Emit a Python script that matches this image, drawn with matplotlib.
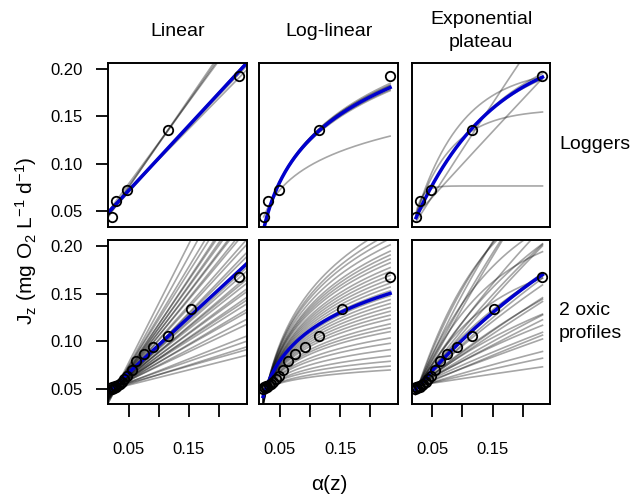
import numpy as np
import matplotlib
matplotlib.use("Agg")
import matplotlib.pyplot as plt

plt.rcParams['font.family'] = ['Liberation Sans', 'DejaVu Sans']
plt.rcParams['mathtext.fontset'] = 'custom'
plt.rcParams['mathtext.rm'] = 'Liberation Sans'
plt.rcParams['mathtext.it'] = 'Liberation Sans:italic'

# observed data: loggers (top row) and 2 oxic profiles (bottom row)
alpha_log = [0.023, 0.0295, 0.048, 0.1155, 0.233]
jz_log = [0.0437, 0.0612, 0.0724, 0.1355, 0.192]

alpha_prof = [0.022, 0.023, 0.025, 0.027, 0.029, 0.032, 0.035, 0.039, 0.043,
              0.048, 0.055, 0.063, 0.075, 0.091, 0.1155, 0.153, 0.233]
jz_prof = [0.050, 0.052, 0.051, 0.053, 0.052, 0.054, 0.055, 0.057, 0.060,
           0.064, 0.070, 0.079, 0.087, 0.094, 0.1055, 0.134, 0.168]

# best fits (blue)
best_lin_log = (0.0376, 0.684)
best_loglin_log = (0.2741, 0.0644)
best_exp_log = (0.039, 1.443, 7.6)
best_lin_prof = (0.0376, 0.585)
best_loglin_prof = (0.2175, 0.046)
best_exp_prof = (0.048, 0.74, 2.5)

# bootstrap fits (grey) - loggers
boot_lin_log_a = [0.0376, 0.039, 0.036, 0.0385, 0.035, 0.040, 0.037, 0.0357, 0.031, 0.029]
boot_lin_log_b = [0.684, 0.675, 0.695, 0.668, 0.700, 0.645, 0.690, 0.864, 0.900, 0.925]
boot_loglin_log_a = [0.274, 0.279, 0.270, 0.283, 0.268, 0.277, 0.1826]
boot_loglin_log_b = [0.0644, 0.066, 0.063, 0.0675, 0.0625, 0.065, 0.0367]
boot_exp_log_j0 = [0.040, 0.040, 0.036, 0.040, 0.044, 0.040, 0.038]
boot_exp_log_s0 = [3.3, 2.0, 1.0, 2.1, 0.70, 1.40, 1.50]
boot_exp_log_k = [90, 17, 0.3, 13, 0.2, 7.0, 8.2]

# bootstrap fits (grey) - 2 oxic profiles
boot_lin_prof_a = [0.015, 0.017, 0.021, 0.023, 0.022, 0.025, 0.024, 0.027, 0.026, 0.028,
                   0.027, 0.030, 0.030, 0.032, 0.031, 0.034, 0.033, 0.035, 0.036, 0.035,
                   0.037, 0.038, 0.037, 0.039, 0.038, 0.040, 0.041, 0.040, 0.042, 0.042,
                   0.044, 0.044, 0.046, 0.045, 0.047, 0.046]
boot_lin_prof_b = [1.25, 1.15, 1.05, 1.00, 0.96, 0.93, 0.90, 0.87, 0.84, 0.82,
                   0.79, 0.76, 0.72, 0.69, 0.66, 0.63, 0.61, 0.58, 0.56, 0.54,
                   0.52, 0.50, 0.48, 0.46, 0.44, 0.42, 0.40, 0.38, 0.36, 0.33,
                   0.30, 0.25, 0.22, 0.20, 0.18, 0.16]
boot_loglin_prof_a = [0.337, 0.326, 0.316, 0.305, 0.294, 0.287, 0.280, 0.273, 0.265, 0.258,
                      0.251, 0.244, 0.237, 0.230, 0.223, 0.215, 0.208, 0.201, 0.194, 0.187,
                      0.180, 0.173, 0.165, 0.158, 0.151, 0.140, 0.130, 0.119, 0.108, 0.098,
                      0.090, 0.083]
boot_loglin_prof_b = [0.080, 0.077, 0.074, 0.071, 0.068, 0.066, 0.064, 0.062, 0.060, 0.058,
                      0.056, 0.054, 0.052, 0.050, 0.048, 0.046, 0.044, 0.042, 0.040, 0.038,
                      0.036, 0.034, 0.032, 0.030, 0.028, 0.025, 0.022, 0.019, 0.016, 0.013,
                      0.011, 0.009]
boot_exp_prof_j0 = [0.040, 0.041, 0.042, 0.043, 0.041, 0.044, 0.043, 0.045, 0.046, 0.044,
                    0.046, 0.047, 0.048, 0.047, 0.049, 0.048, 0.050, 0.049, 0.050, 0.051,
                    0.050, 0.051, 0.052, 0.051, 0.052, 0.050, 0.052, 0.051, 0.052, 0.053]
boot_exp_prof_s0 = [2.0, 1.8, 1.6, 1.5, 1.5, 1.3, 1.2, 1.1, 1.0, 1.2,
                    0.9, 0.8, 0.75, 0.85, 0.7, 0.65, 0.6, 0.55, 0.5, 0.45,
                    0.5, 0.4, 0.35, 0.38, 0.3, 0.28, 0.25, 0.2, 0.15, 0.1]
boot_exp_prof_k = [8, 6, 7, 3, 8, 2, 1, 4, 2, 8,
                   2, 1, 2.5, 4, 2, 1.5, 1.5, 2, 1, 0.5,
                   3, 1, 0.5, 2, 1, 0.5, 0.5, 1, 0.5, 0.5]

col_titles = ['Linear', 'Log-linear', 'Exponential\nplateau']
row_titles = ['Loggers', '2 oxic\nprofiles']
x_ticks = [0.05, 0.10, 0.15, 0.20]
x_ticklabels = ['0.05', '', '0.15', '']
y_ticks = [0.05, 0.10, 0.15, 0.20]

A0 = 0.02


def lin(x, a, b):
    return a + b * x


def loglin(x, a, b):
    return a + b * np.log(x)


def expplat(x, j0, s0, k):
    return j0 + s0 / k * (1 - np.exp(-k * (x - A0)))


fig = plt.figure(figsize=(6.3, 4.98), dpi=100)

lefts = [0.1714, 0.4116, 0.6535]
bottoms = [0.5448, 0.1882]
w, h = 0.2200, 0.3295
xlim = (0.0157, 0.246)
ylim = (0.0338, 0.2065)

grey = dict(color='black', alpha=0.35, lw=1.2)
blue = dict(color='#0000cd', lw=2.5)

rows = [
    dict(alpha=alpha_log, jz=jz_log,
         lin=(boot_lin_log_a, boot_lin_log_b, best_lin_log),
         loglin=(boot_loglin_log_a, boot_loglin_log_b, best_loglin_log),
         exp=(boot_exp_log_j0, boot_exp_log_s0, boot_exp_log_k, best_exp_log)),
    dict(alpha=alpha_prof, jz=jz_prof,
         lin=(boot_lin_prof_a, boot_lin_prof_b, best_lin_prof),
         loglin=(boot_loglin_prof_a, boot_loglin_prof_b, best_loglin_prof),
         exp=(boot_exp_prof_j0, boot_exp_prof_s0, boot_exp_prof_k, best_exp_prof)),
]

for r, row in enumerate(rows):
    xa = np.linspace(xlim[0], xlim[1], 200)
    xc = np.linspace(min(row['alpha']), max(row['alpha']), 200)
    for c in range(3):
        ax = fig.add_axes([lefts[c], bottoms[r], w, h])
        if c == 0:
            aa, bb, best = row['lin']
            for a, b in zip(aa, bb):
                ax.plot(xa, lin(xa, a, b), **grey)
            ax.plot(xa, lin(xa, *best), **blue)
        elif c == 1:
            aa, bb, best = row['loglin']
            for a, b in zip(aa, bb):
                ax.plot(xc, loglin(xc, a, b), **grey)
            ax.plot(xc, loglin(xc, *best), **blue)
        else:
            jj, ss, kk, best = row['exp']
            for j0, s0, k in zip(jj, ss, kk):
                ax.plot(xc, expplat(xc, j0, s0, k), **grey)
            ax.plot(xc, expplat(xc, *best), **blue)
        ax.plot(row['alpha'], row['jz'], 'o', mfc='none', mec='black',
                ms=6.8, mew=1.3, zorder=5)

        ax.set_xlim(xlim)
        ax.set_ylim(ylim)
        for s in ax.spines.values():
            s.set_linewidth(1.4)
        ax.tick_params(length=9, width=1.3, labelsize=12)
        if c == 0:
            ax.set_yticks(y_ticks)
            ax.set_yticklabels(['0.05', '0.10', '0.15', '0.20'])
            ax.tick_params(axis='y', pad=9)
        else:
            ax.set_yticks([])
        if r == 1:
            ax.set_xticks(x_ticks)
            ax.set_xticklabels(x_ticklabels)
            ax.tick_params(axis='x', pad=18)
        else:
            ax.set_xticks([])
        if r == 0:
            fig.text(lefts[c] + w / 2, 1 - 31 / 498, col_titles[c],
                     ha='center', va='center', fontsize=14, linespacing=1.45)
    fig.text(559 / 630, bottoms[r] + h / 2, row_titles[r],
             ha='left', va='center', fontsize=14, linespacing=1.45)

fig.text(26 / 630, 0.516, r'J$_\mathrm{z}$ (mg O$_2$ L$^{-1}$ d$^{-1}$)',
         rotation=90, ha='center', va='center', fontsize=15)
fig.text(0.522, 1 - 484 / 498, 'α(z)', ha='center', va='center', fontsize=15)

fig.savefig('out.png', dpi=100)
